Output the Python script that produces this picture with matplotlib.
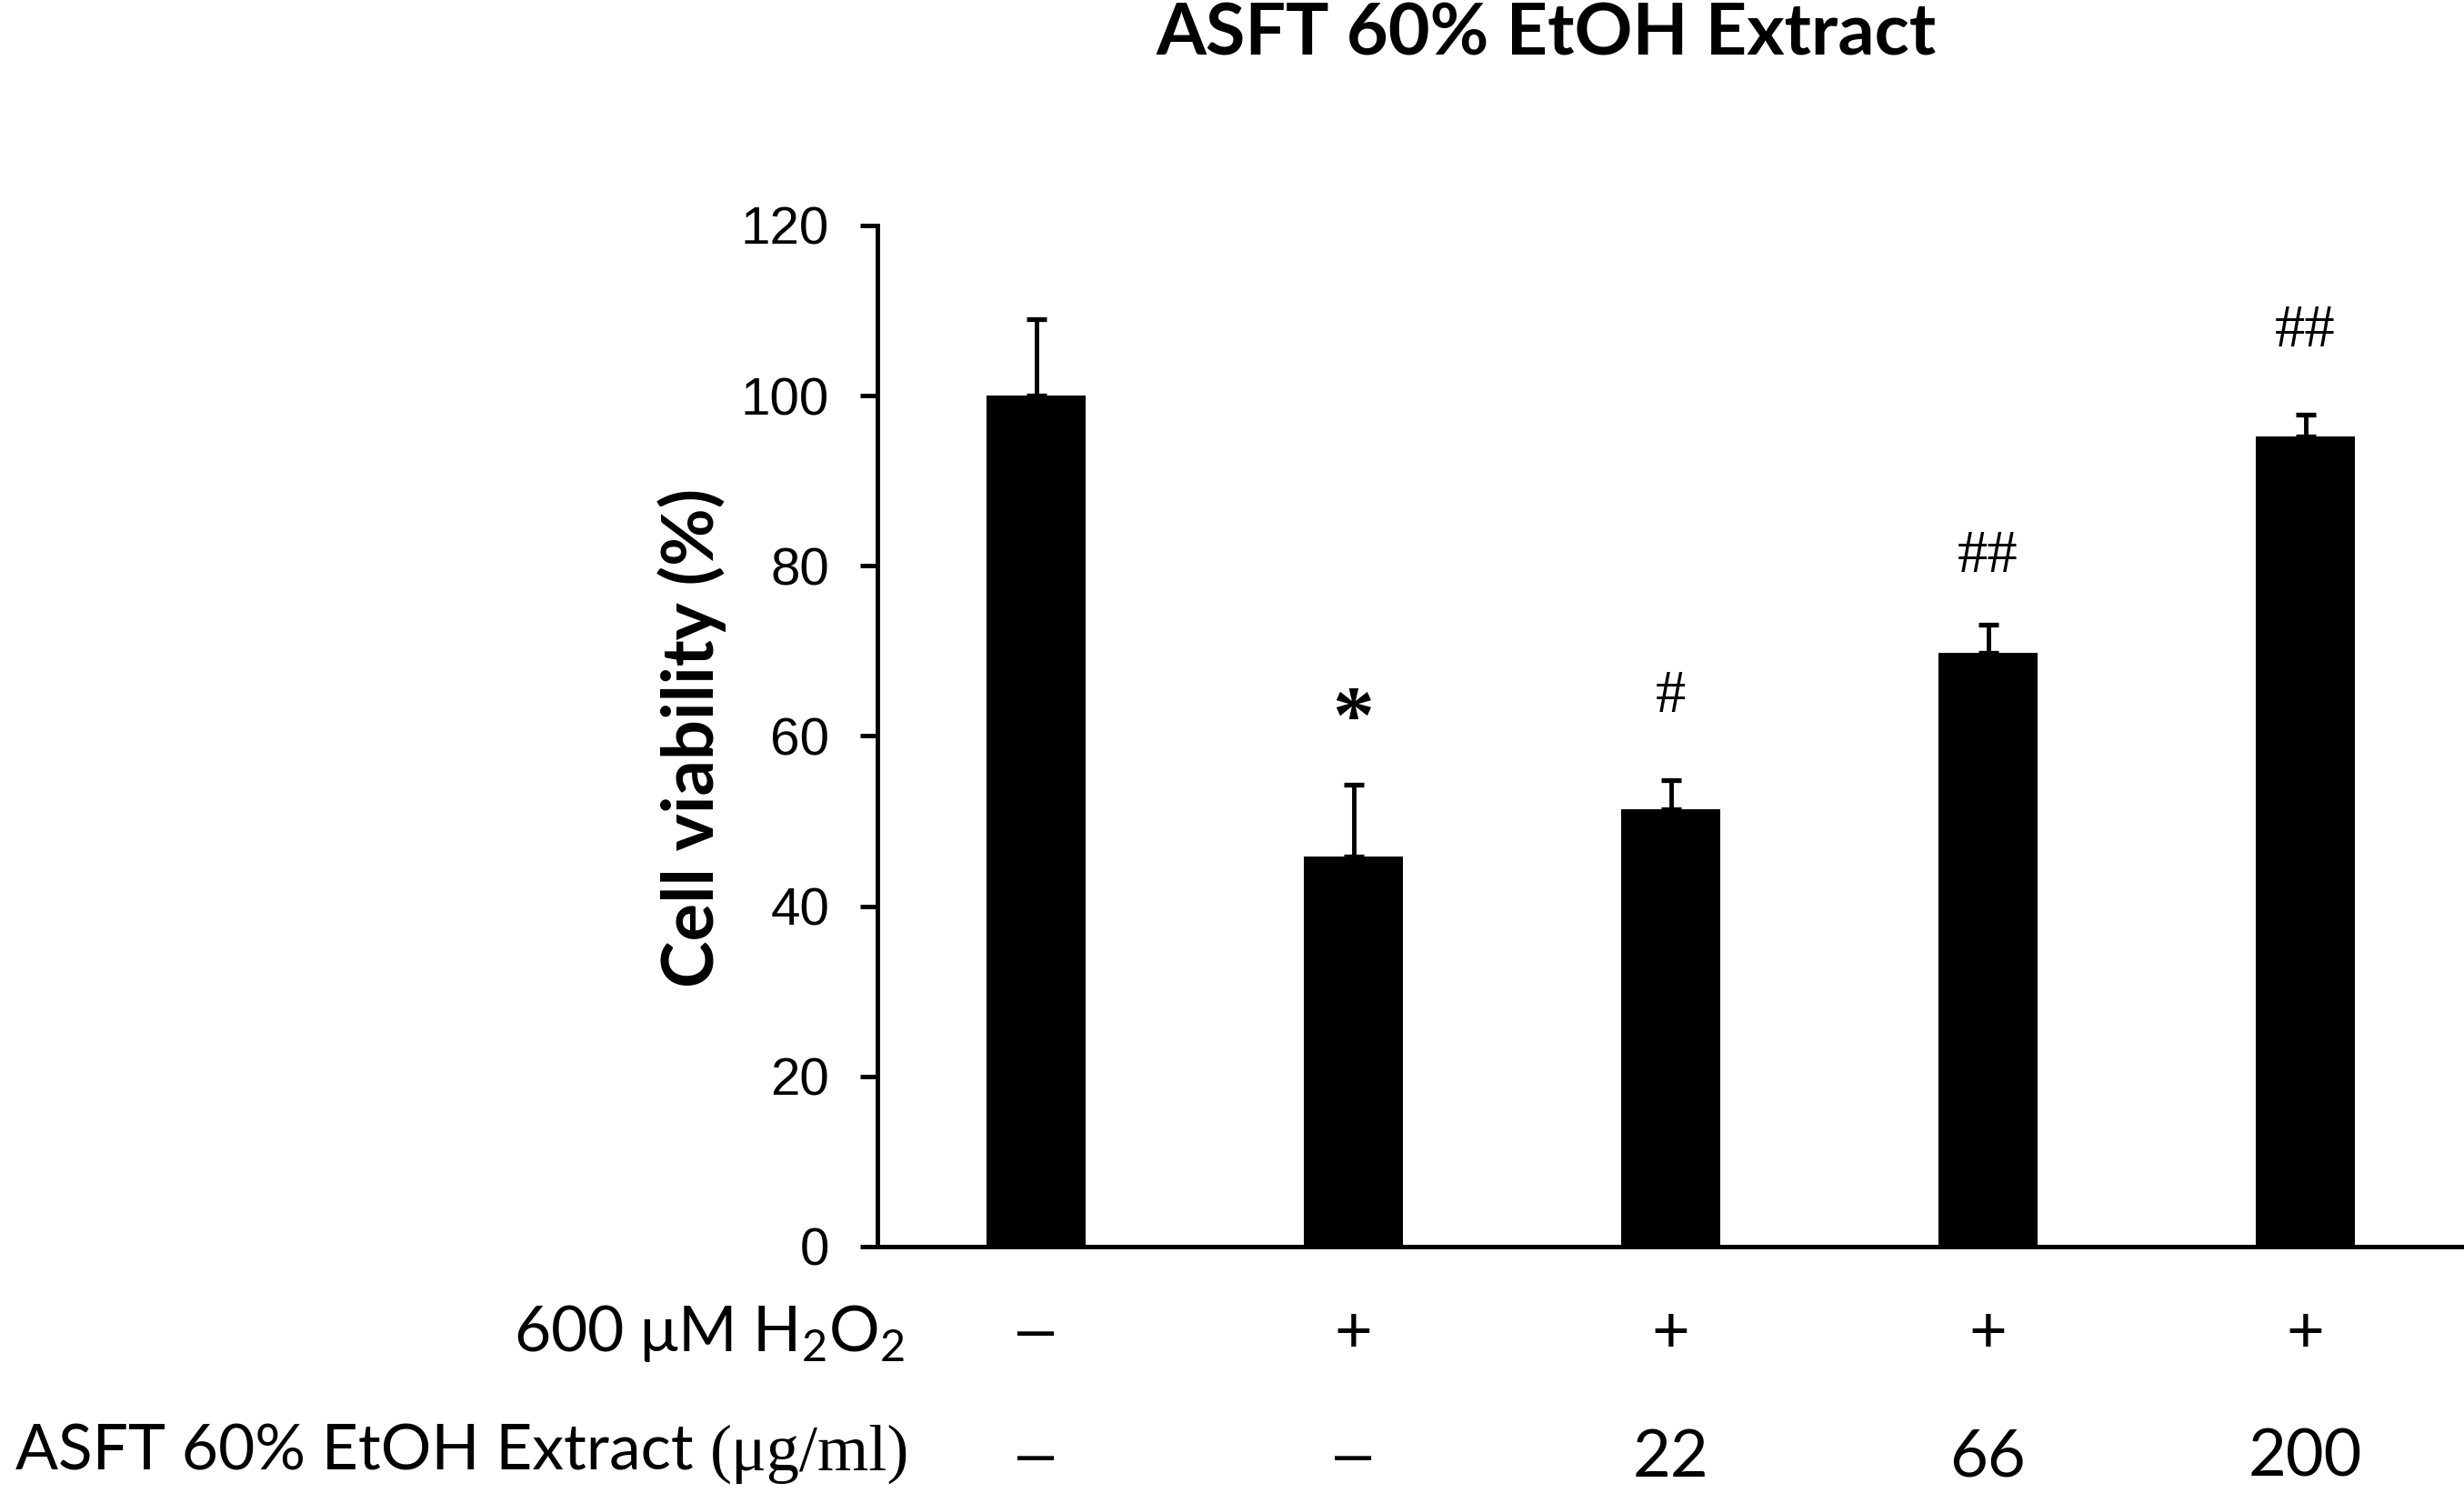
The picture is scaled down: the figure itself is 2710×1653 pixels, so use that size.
import matplotlib
matplotlib.use("Agg")
import matplotlib.pyplot as plt
from matplotlib.transforms import blended_transform_factory

# data
groups = ["ctrl", "H2O2", "22", "66", "200"]
viability = [100.0, 45.8, 51.4, 69.8, 95.2]
err_up = [9.0, 8.5, 3.4, 3.3, 2.6]
marks = ["", "*", "#", "##", "##"]
mark_y = [None, 61.6, 64.6, 81.0, 107.5]
h2o2_row = ["\u2013", "+", "+", "+", "+"]
dose_row = ["\u2013", "\u2013", "22", "66", "200"]

sans = ["Lato", "DejaVu Sans"]
plt.rcParams["mathtext.fontset"] = "custom"
plt.rcParams["mathtext.rm"] = "Lato"

fig = plt.figure(figsize=(27.1, 16.53), dpi=100)
ax = fig.add_axes([965 / 2710, 0.1706, 1 - 965 / 2710, 0.6794])

x = list(range(len(groups)))
ax.bar(x, viability, width=0.31, color="black")
ax.errorbar(x, viability, yerr=[[0] * len(err_up), err_up], fmt="none",
            ecolor="black", elinewidth=3.5, capsize=8, capthick=3.8)

for i in range(len(x)):
    if marks[i] == "*":
        ax.text(x[i], mark_y[i], marks[i], ha="center", va="center",
                fontsize=66, fontweight="bold", family="Liberation Serif")
    elif marks[i]:
        ax.text(x[i], mark_y[i], marks[i], ha="center", va="center",
                fontsize=48, family="Liberation Serif")

ax.set_xlim(-0.5, 4.5)
ax.set_ylim(0, 120)
ax.set_yticks(range(0, 121, 20))
ax.set_xticks([])
for s in ["top", "right"]:
    ax.spines[s].set_visible(False)
ax.spines["left"].set_linewidth(3.5)
ax.spines["bottom"].set_linewidth(3.5)
ax.tick_params(axis="y", length=14, width=3.5, pad=24, labelsize=42)
for lab in ax.get_yticklabels():
    lab.set_family("Liberation Sans")

fig.text(0.281, 0.509, "Cell viability (%)", rotation=90, ha="center",
         va="center", fontsize=56, fontweight="bold", family=sans)
fig.text(1700 / 2710, 0.977, "ASFT 60% EtOH Extract", ha="center",
         va="center", fontsize=57, fontweight="bold", family=sans)

# treatment rows under the axis
tr = blended_transform_factory(ax.transData, fig.transFigure)
fig.text(995 / 2710, 0.113, "600 \u03bcM H$_2$O$_2$", ha="right",
         va="center", fontsize=50, family=sans)
unit = fig.text(1000 / 2710, 0.022, "(\u03bcg/ml)", ha="right",
                va="baseline", fontsize=52, family="Liberation Serif")
ax.annotate("ASFT 60% EtOH Extract ", xy=(0, 0.022),
            xycoords=(unit, "figure fraction"), ha="right", va="baseline",
            fontsize=50, family=sans, annotation_clip=False)
for i in range(len(x)):
    for row, yy in [(h2o2_row, 0.113), (dose_row, 0.030)]:
        if row[i] == "\u2013":
            fig.text(x[i], yy, row[i], transform=tr, ha="center",
                     va="center", fontsize=52, family="Liberation Sans")
        else:
            fig.text(x[i], yy, row[i], transform=tr, ha="center",
                     va="center", fontsize=52, family=sans)

fig.savefig("out.png", dpi=100)
